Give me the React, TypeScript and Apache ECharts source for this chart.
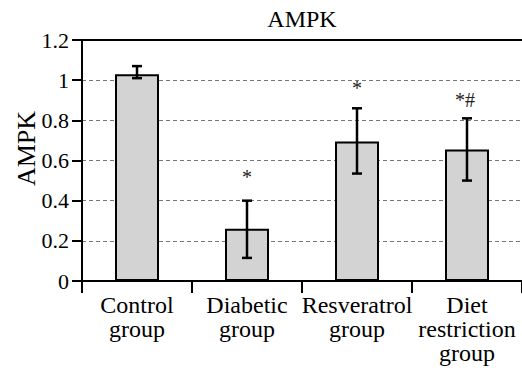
import React, { useEffect, useRef } from "react";
import * as echarts from "echarts";

const categories = ["Control\ngroup", "Diabetic\ngroup", "Resveratrol\ngroup", "Diet\nrestriction\ngroup"];
const meanValues = [1.03, 0.26, 0.695, 0.655];
const errorLow = [1.01, 0.115, 0.535, 0.5];
const errorHigh = [1.07, 0.4, 0.86, 0.81];
const markTexts = ["", "*", "*", "*#"];
const markLevels = [0, 0.519, 0.961, 0.899];
const yTickValues = [0, 0.2, 0.4, 0.6, 0.8, 1.0, 1.2];
const yTickLabels = ["0", "0.2", "0.4", "0.6", "0.8", "1", "1.2"];
const titleText = "AMPK";
const yAxisTitle = "AMPK";

const FONT = "Liberation Serif";

export default function App() {
  const ref = useRef<HTMLDivElement>(null);

  useEffect(() => {
    if (!ref.current) return;
    const chart = echarts.init(ref.current, null, { renderer: "svg" });

    const errorData = categories.map((_, i) => [i, errorLow[i], errorHigh[i]]);

    chart.setOption({
      animation: false,
      backgroundColor: "#fff",
      grid: { left: 82, top: 40, width: 444, bottom: 87, containLabel: false },
      xAxis: [
        {
          type: "category",
          data: categories,
          position: "bottom",
          axisLine: { lineStyle: { color: "#000", width: 2 } },
          axisTick: { show: true, length: 12, lineStyle: { color: "#000", width: 2 } },
          axisLabel: { show: false },
          splitLine: { show: false },
        },
        {
          type: "category",
          data: categories,
          position: "top",
          axisLine: { lineStyle: { color: "#000", width: 2 } },
          axisTick: { show: false },
          axisLabel: { show: false },
        },
      ],
      yAxis: {
        type: "value",
        min: 0,
        max: 1.2,
        interval: 0.2,
        axisLine: { show: true, lineStyle: { color: "#000", width: 2 } },
        axisTick: { show: true, length: 10, lineStyle: { color: "#000", width: 2 } },
        axisLabel: { show: false },
        splitLine: {
          show: true,
          lineStyle: { color: "#777", width: 1, type: [4, 3] },
        },
      },
      series: [
        {
          type: "bar",
          data: meanValues,
          barWidth: 44,
          itemStyle: { color: "#d3d3d3", borderColor: "#000", borderWidth: 2 },
          z: 2,
        },
        {
          type: "custom",
          data: errorData,
          z: 3,
          renderItem: (params: any, api: any) => {
            const idx = api.value(0);
            const hi = api.coord([idx, api.value(2)]);
            const lo = api.coord([idx, api.value(1)]);
            const half = 5;
            const style = { stroke: "#000", lineWidth: 2.5 };
            return {
              type: "group",
              children: [
                { type: "line", shape: { x1: hi[0], y1: hi[1], x2: lo[0], y2: lo[1] }, style },
                { type: "line", shape: { x1: hi[0] - half, y1: hi[1], x2: hi[0] + half, y2: hi[1] }, style },
                { type: "line", shape: { x1: lo[0] - half, y1: lo[1], x2: lo[0] + half, y2: lo[1] }, style },
              ],
            };
          },
        },
      ],
    });

    const xPix = (i: number) => chart.convertToPixel({ xAxisIndex: 0 }, i) as number;
    const yPix = (v: number) => chart.convertToPixel({ yAxisIndex: 0 }, v) as number;
    const y0 = yPix(0);
    const yTop = yPix(1.2);
    const leftX = xPix(0) - (xPix(1) - xPix(0)) / 2;
    const rightX = xPix(categories.length - 1) + (xPix(1) - xPix(0)) / 2;

    const elements: any[] = [];
    elements.push({
      type: "text",
      x: (leftX + rightX) / 2,
      y: 19,
      style: { text: titleText, fontFamily: FONT, fontSize: 24, fill: "#000", align: "center", verticalAlign: "middle" },
    });
    elements.push({
      type: "text",
      x: 26,
      y: (y0 + yTop) / 2 - 12,
      rotation: Math.PI / 2,
      style: { text: yAxisTitle, fontFamily: FONT, fontSize: 26, fill: "#000", align: "center", verticalAlign: "middle" },
    });
    yTickValues.forEach((v, i) => {
      elements.push({
        type: "text",
        x: 69,
        y: yPix(v),
        style: { text: yTickLabels[i], fontFamily: FONT, fontSize: 22, fill: "#000", align: "right", verticalAlign: "middle" },
      });
    });
    categories.forEach((c, i) => {
      elements.push({
        type: "text",
        x: xPix(i),
        y: y0 + 12,
        style: { text: c, fontFamily: FONT, fontSize: 24, lineHeight: 24, fill: "#000", align: "center", verticalAlign: "top" },
      });
      if (markTexts[i]) {
        elements.push({
          type: "text",
          x: xPix(i) - (markTexts[i].length > 1 ? 2 : 0),
          y: yPix(markLevels[i]),
          z: 10,
          style: { text: markTexts[i], fontFamily: FONT, fontSize: 20, fill: "#222", align: "center", verticalAlign: "middle" },
        });
      }
    });

    chart.setOption({ graphic: { elements } });

    return () => chart.dispose();
  }, []);

  return (
    <div
      ref={ref}
      style={{ position: "fixed", left: 0, top: 0, width: 522, height: 368 }}
    />
  );
}
